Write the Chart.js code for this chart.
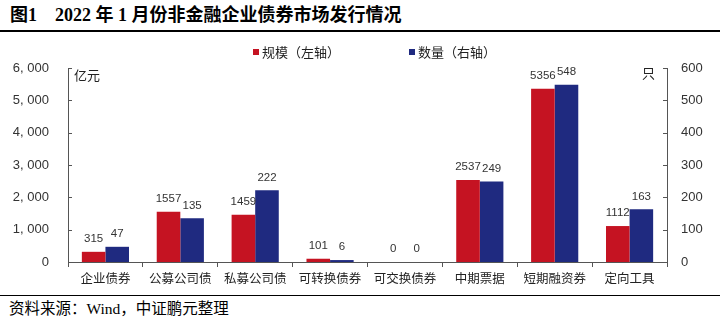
<!DOCTYPE html>
<html>
<head>
<meta charset="utf-8">
<script src="https://cdn.jsdelivr.net/npm/chart.js@4/dist/chart.umd.min.js"></script>
<style>
  body { margin: 0; background: #fff; width: 720px; height: 322px; overflow: hidden; position: relative; }
  #title {
    position: absolute; left: 0; top: 0; width: 720px; height: 32px;
    border-bottom: 2px solid #000;
    font: bold 18px "Liberation Serif", "Noto Sans CJK SC", serif;
    line-height: 30px; padding-left: 10px; box-sizing: border-box; color: #000;
    white-space: pre;
  }
  #chartBox { position: absolute; left: 0; top: 35px; width: 720px; height: 255px; }
  #source {
    position: absolute; left: 0; top: 295px; width: 720px; height: 27px;
    border-top: 1.5px solid #000; box-sizing: border-box;
    font: 15.5px "Liberation Serif", "Noto Sans CJK SC", serif;
    line-height: 26px; padding-left: 9px; color: #000;
  }
</style>
</head>
<body>
<div id="title">图1    2022 年 1 月份非金融企业债券市场发行情况</div>
<div id="chartBox"><canvas id="bondChart" width="720" height="255"></canvas></div>
<div id="source">资料来源：Wind，中证鹏元整理</div>
<script>
// chart data
const categories = ['企业债券', '公募公司债', '私募公司债', '可转换债券', '可交换债券', '中期票据', '短期融资券', '定向工具'];
const scaleValues = [315, 1557, 1459, 101, 0, 2537, 5356, 1112];   // 亿元
const countValues = [47, 135, 222, 6, 0, 249, 548, 163];          // 只
const leftTicks = ['0', '1, 000', '2, 000', '3, 000', '4, 000', '5, 000', '6, 000'];
const rightTicks = ['0', '100', '200', '300', '400', '500', '600'];

const RED = '#C51322';
const BLUE = '#1F2A80';
const TEXT = '#333333';
const numFont = '"Liberation Sans", Arial, sans-serif';
const cjkFont = '"Noto Sans CJK SC", sans-serif';

// legend, value labels above bars, inward ticks on y axes, unit captions
const extrasPlugin = {
    id: 'extras',
    afterDraw(chart) {
        const ctx = chart.ctx;
        ctx.save();

        // legend: two entries, centred above the plot
        ctx.font = '13px ' + cjkFont;
        ctx.textBaseline = 'middle';
        ctx.textAlign = 'left';
        const legendX = [253, 409];
        chart.data.datasets.forEach((ds, i) => {
            ctx.fillStyle = ds.backgroundColor;
            ctx.fillRect(legendX[i], 14, 6, 6);
            ctx.fillStyle = '#222';
            ctx.fillText(ds.label, legendX[i] + 9, 17);
        });

        // value labels
        ctx.font = '11.5px ' + numFont;
        ctx.fillStyle = TEXT;
        ctx.textAlign = 'center';
        ctx.textBaseline = 'bottom';
        chart.data.datasets.forEach((ds, i) => {
            chart.getDatasetMeta(i).data.forEach((bar, j) => {
                ctx.fillText(String(ds.data[j]), bar.x, bar.y - 7);
            });
        });

        // inward tick marks
        const area = chart.chartArea;
        const yl = chart.scales.y;
        const yr = chart.scales.y1;
        ctx.strokeStyle = '#555';
        ctx.lineWidth = 1;
        ctx.beginPath();
        yl.ticks.forEach(t => {
            const py = Math.round(yl.getPixelForValue(t.value)) + 0.5;
            ctx.moveTo(area.left, py); ctx.lineTo(area.left + 4, py);
        });
        yr.ticks.forEach(t => {
            const py = Math.round(yr.getPixelForValue(t.value)) + 0.5;
            ctx.moveTo(area.right, py); ctx.lineTo(area.right - 4, py);
        });
        ctx.stroke();

        // unit captions
        ctx.font = '13px ' + cjkFont;
        ctx.fillStyle = '#222';
        ctx.textBaseline = 'middle';
        ctx.textAlign = 'left';
        ctx.fillText('亿元', area.left + 6, area.top + 7);
        ctx.textAlign = 'right';
        ctx.fillText('只', area.right - 12, area.top + 5);
        ctx.restore();
    }
};

new Chart(document.getElementById('bondChart'), {
    type: 'bar',
    data: {
        labels: categories,
        datasets: [
            {
                label: '规模（左轴）',
                data: scaleValues,
                backgroundColor: RED,
                yAxisID: 'y',
                categoryPercentage: 0.63,
                barPercentage: 1.0
            },
            {
                label: '数量（右轴）',
                data: countValues,
                backgroundColor: BLUE,
                yAxisID: 'y1',
                categoryPercentage: 0.63,
                barPercentage: 1.0
            }
        ]
    },
    options: {
        responsive: false,
        animation: false,
        layout: { padding: { left: 0, right: 0, top: 33, bottom: 0 } },
        plugins: {
            legend: { display: false },
            tooltip: { enabled: false }
        },
        scales: {
            x: {
                grid: { drawOnChartArea: false, drawTicks: true, tickLength: 5, color: '#555' },
                border: { color: '#555' },
                ticks: { color: '#222', font: { family: cjkFont, size: 12.5 }, padding: 4, maxRotation: 0 },
                afterFit(scale) { scale.height = 28; }
            },
            y: {
                position: 'left',
                min: 0, max: 6000,
                grid: { display: false },
                border: { color: '#555' },
                ticks: {
                    stepSize: 1000,
                    color: TEXT,
                    padding: 11,
                    font: { family: numFont, size: 13 },
                    callback: (v, i) => leftTicks[i]
                },
                afterFit(scale) { scale.width = 68; }
            },
            y1: {
                position: 'right',
                min: 0, max: 600,
                grid: { display: false },
                border: { color: '#555' },
                ticks: {
                    stepSize: 100,
                    color: TEXT,
                    padding: 6,
                    font: { family: numFont, size: 13 },
                    callback: (v, i) => rightTicks[i]
                },
                afterFit(scale) { scale.width = 53; }
            }
        }
    },
    plugins: [extrasPlugin]
});
</script>
</body>
</html>
